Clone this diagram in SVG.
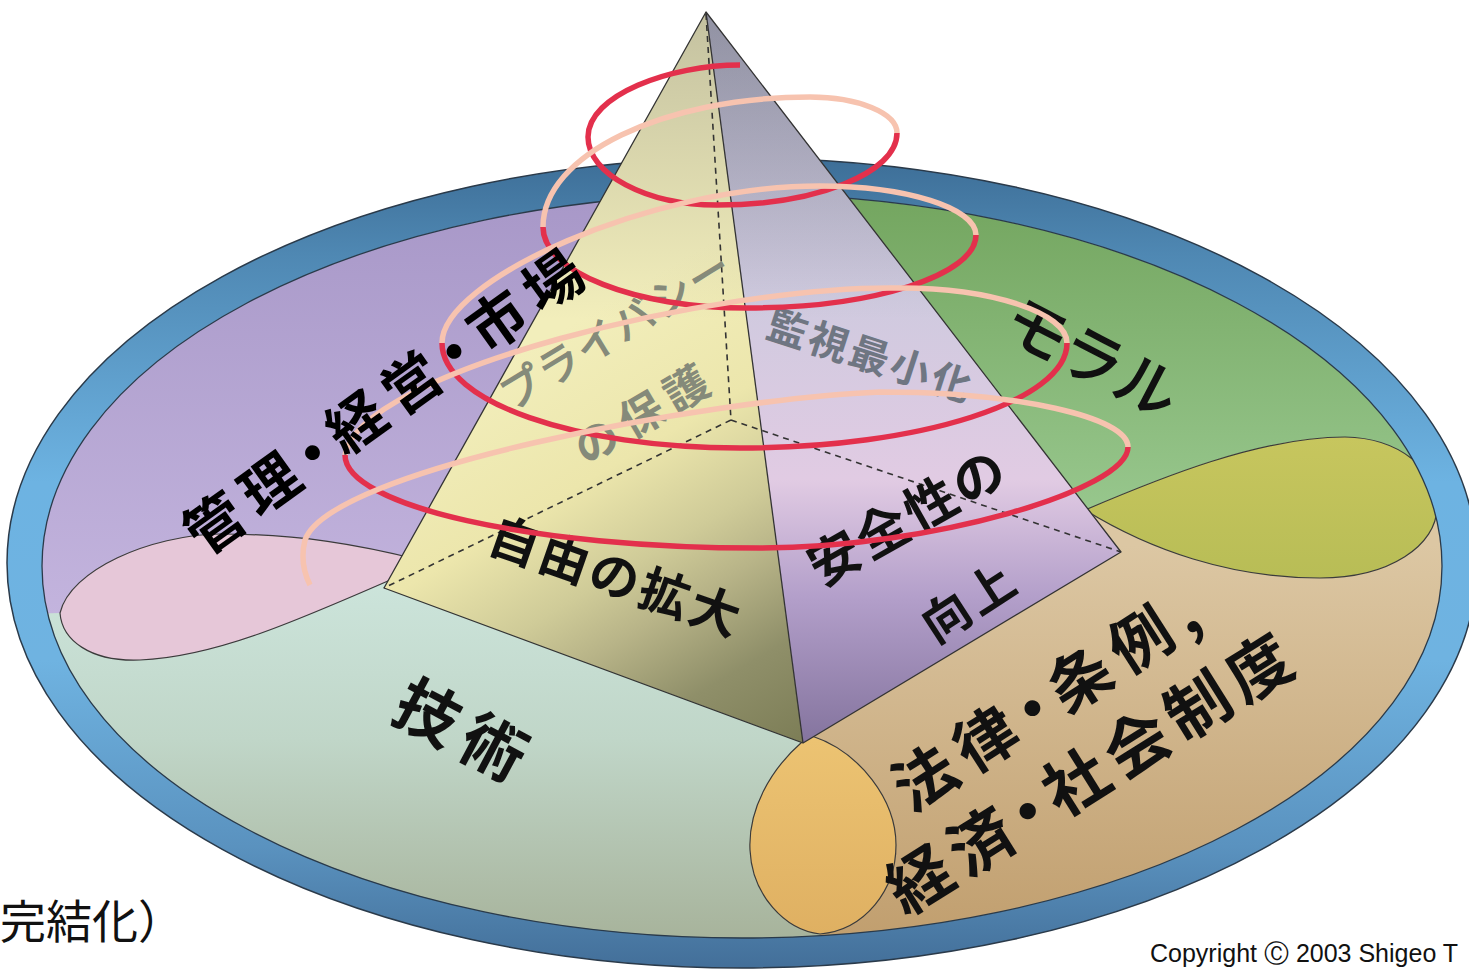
<svg xmlns="http://www.w3.org/2000/svg" width="1469" height="971" viewBox="0 0 1469 971">
<defs>
<style>
.lbl{font-family:"Noto Sans CJK JP","Noto Sans CJK SC",sans-serif;font-weight:700;fill:#111;}
.thin{font-weight:400;}
.gry{fill:#858a7a;}
.edge{fill:none;stroke:#333;stroke-width:1.3;stroke-linejoin:round;}
.dash{fill:none;stroke:#333;stroke-width:1.6;stroke-dasharray:6 5;}
.red{fill:none;stroke:#e3304c;stroke-width:5.5;}
.pale{fill:none;stroke:#f7c3af;stroke-width:5.5;}
.outl{stroke:#3b3b3b;stroke-width:1.2;}
</style>
<linearGradient id="ringG" gradientUnits="userSpaceOnUse" x1="0" y1="158" x2="0" y2="968">
<stop offset="0" stop-color="#3d6e97"/><stop offset="0.12" stop-color="#4f88b3"/><stop offset="0.4" stop-color="#6db3e2"/><stop offset="0.62" stop-color="#6fb3e1"/><stop offset="0.85" stop-color="#5a92bf"/><stop offset="1" stop-color="#436f99"/>
</linearGradient>
<linearGradient id="tealG" gradientUnits="userSpaceOnUse" x1="0" y1="540" x2="0" y2="940">
<stop offset="0" stop-color="#cfe8e0"/><stop offset="0.5" stop-color="#c0d6c8"/><stop offset="1" stop-color="#a7b39b"/>
</linearGradient>
<linearGradient id="purpleG" gradientUnits="userSpaceOnUse" x1="0" y1="200" x2="0" y2="660">
<stop offset="0" stop-color="#a898c8"/><stop offset="1" stop-color="#c6b7e0"/>
</linearGradient>
<linearGradient id="greenG" gradientUnits="userSpaceOnUse" x1="0" y1="200" x2="0" y2="560">
<stop offset="0" stop-color="#74a660"/><stop offset="1" stop-color="#9dcc94"/>
</linearGradient>
<linearGradient id="tanG" gradientUnits="userSpaceOnUse" x1="0" y1="545" x2="0" y2="935">
<stop offset="0" stop-color="#dcc7a3"/><stop offset="1" stop-color="#c19f6f"/>
</linearGradient>
<linearGradient id="ygG" gradientUnits="userSpaceOnUse" x1="0" y1="437" x2="0" y2="578">
<stop offset="0" stop-color="#c7c65e"/><stop offset="1" stop-color="#b8bd56"/>
</linearGradient>
<linearGradient id="orangeG" gradientUnits="userSpaceOnUse" x1="0" y1="740" x2="0" y2="934">
<stop offset="0" stop-color="#ecc372"/><stop offset="1" stop-color="#dfb062"/>
</linearGradient>
<linearGradient id="leftFaceG" gradientUnits="userSpaceOnUse" x1="560" y1="330" x2="803" y2="743">
<stop offset="0" stop-color="#f2eebb"/><stop offset="0.3" stop-color="#ece6ac"/><stop offset="0.5" stop-color="#cfcb98"/><stop offset="0.62" stop-color="#b8b488"/><stop offset="0.8" stop-color="#8f8f69"/><stop offset="1" stop-color="#7c7d56"/>
</linearGradient>
<linearGradient id="rightFaceG" gradientUnits="userSpaceOnUse" x1="0" y1="12" x2="0" y2="743">
<stop offset="0" stop-color="#a4a5bf"/><stop offset="0.39" stop-color="#cfcadf"/><stop offset="0.64" stop-color="#e1cbe3"/><stop offset="0.8" stop-color="#b39fca"/><stop offset="1" stop-color="#84749e"/>
</linearGradient>
<linearGradient id="apexShade" gradientUnits="userSpaceOnUse" x1="0" y1="12" x2="0" y2="320">
<stop offset="0" stop-color="#6e6e6e" stop-opacity="0.35"/><stop offset="1" stop-color="#6e6e6e" stop-opacity="0"/>
</linearGradient>
<clipPath id="innerClip"><ellipse cx="742" cy="566" rx="700" ry="372"/></clipPath>
</defs>

<g id="ring">
<ellipse cx="742" cy="563" rx="735" ry="405" fill="url(#ringG)" stroke="#2a3a4a" stroke-width="1.5"/>
</g>

<g id="regions" clip-path="url(#innerClip)">
<rect id="region-gijutsu" x="0" y="150" width="1469" height="821" fill="url(#tealG)"/>
<path id="region-houritsu" d="M790,700 L802,742 C770,770 748,810 750,850 C752,895 785,930 820,934 L822,1000 L1520,1000 L1520,507 L1437,507 C1437,545 1390,578 1320,578 C1230,578 1150,550 1085,510 L1060,520 Z" fill="url(#tanG)"/>
<path id="region-kanri" d="M0,0 L0,615 L60,613 C62,640 90,662 140,660 C220,657 310,615 420,567 L706,150 L706,0 Z" fill="url(#purpleG)"/>
<path id="region-moral" d="M760,0 L760,200 L1060,515 L1085,510 C1160,478 1260,437 1345,437 C1400,438 1437,470 1437,507 L1520,507 L1520,0 Z" fill="url(#greenG)"/>
<path id="overlap-pink" class="outl" d="M60,613 C62,640 90,662 140,660 C220,657 310,615 420,567 L420,560 C360,545 300,534 220,534 C150,535 70,570 60,613 Z" fill="#e6c7d8"/>
<path id="overlap-yellowgreen" class="outl" d="M1437,507 C1437,470 1400,438 1345,437 C1260,437 1160,478 1085,510 C1150,550 1230,578 1320,578 C1390,578 1437,545 1437,507 Z" fill="url(#ygG)"/>
<path id="overlap-orange" class="outl" d="M802,742 C770,770 748,810 750,850 C752,895 785,930 820,934 C865,930 896,890 896,845 C896,800 860,752 812,736 Z" fill="url(#orangeG)"/>
</g>
<ellipse cx="742" cy="566" rx="700" ry="372" fill="none" stroke="#2a3a4a" stroke-width="1.3"/>

<g id="pyramid">
<polygon id="face-left" points="706,12 384,588 803,743" fill="url(#leftFaceG)"/>
<polygon id="face-right" points="706,12 803,743 1121,552" fill="url(#rightFaceG)"/>
<polygon points="706,12 384,588 803,743 1121,552" fill="url(#apexShade)"/>
<polygon class="edge" points="706,12 384,588 803,743 1121,552"/>
<line class="edge" x1="706" y1="12" x2="803" y2="743"/>
<line class="dash" x1="706" y1="14" x2="731" y2="420"/>
<line class="dash" x1="731" y1="420" x2="384" y2="588"/>
<line class="dash" x1="731" y1="420" x2="1121" y2="552"/>
</g>

<g id="labels">
<g id="label-privacy" transform="translate(616,330) rotate(-31.4)"><text class="lbl gry thin" font-size="42" letter-spacing="2" text-anchor="middle" dy=".36em" stroke="#858a7a" stroke-width="1.4">プライバシー</text></g>
<g id="label-hogo" transform="translate(645,413) rotate(-30.5)"><text class="lbl gry" font-size="44" letter-spacing="8" text-anchor="middle" dy=".36em">の保護</text></g>
<g id="label-jiyu" transform="translate(616,577) rotate(19.2)"><text class="lbl" font-size="50" letter-spacing="3" text-anchor="middle" dy=".36em">自由の拡大</text></g>
<g id="label-kanshi" transform="translate(871,356) rotate(18)"><text class="lbl" font-size="40" letter-spacing="3" text-anchor="middle" dy=".36em" style="fill:#6f7682">監視最小化</text></g>
<g id="label-moral" transform="translate(1092,358) rotate(27.4)"><text class="lbl thin" font-size="62" text-anchor="middle" dy=".36em" stroke="#111" stroke-width="1.8">モラル</text></g>
<g id="label-anzen" transform="translate(908,517) rotate(-29.5)"><text class="lbl" font-size="52" letter-spacing="3" text-anchor="middle" dy=".36em">安全性の</text></g>
<g id="label-kojo" transform="translate(970,602) rotate(-33)"><text class="lbl" font-size="48" letter-spacing="4" text-anchor="middle" dy=".36em">向上</text></g>
<g id="label-gijutsu" transform="translate(465,733) rotate(28)"><text class="lbl" font-size="64" letter-spacing="10" text-anchor="middle" dy=".36em">技術</text></g>
<g id="label-houritsu" transform="translate(899,795) rotate(-32.6)"><text class="lbl" font-size="62" letter-spacing="10" text-anchor="start" dy=".36em">法律<tspan dx="-16">・</tspan><tspan dx="-16">条例,</tspan></text></g>
<g id="label-keizai" transform="translate(1093,772) rotate(-32)"><text class="lbl" font-size="64" letter-spacing="8" text-anchor="middle" dy=".36em">経済<tspan dx="-16">・</tspan><tspan dx="-16">社会制度</tspan></text></g>
</g>

<g id="spiral">
<path class="red" d="M740,65 C670,65 588,95 588,137 C588,174 646,205 717,205 C816,205 897,173 897,133"/>
<path class="pale" d="M897,133 C897,113 858,97 810,97 C663,97 543,155 543,227"/>
<path class="red" d="M543,227 C543,272 635,308 747,308 C873,308 976,275 976,235"/>
<path class="pale" d="M976,235 C976,208 906,186 820,186 C650,186 442,280 442,343"/>
<path class="red" d="M442,343 C442,402 576,448 740,448 C920,448 1067,401 1067,343"/>
<path class="pale" d="M1067,343 C1067,313 992,288 900,288 C720,285 360,370 345,455"/>
<path class="red" d="M345,455 C345,506 532,548 760,548 C930,548 1128,490 1128,447"/>
<path class="pale" d="M1128,447 C1128,417 1016,392 880,392 C700,400 330,470 305,540 C300,560 305,575 310,585"/>
</g>

<g id="label-kanri" transform="translate(388,400) rotate(-35.6)"><text class="lbl" font-size="58" letter-spacing="10" text-anchor="middle" dy=".36em" style="fill:#000">管理<tspan dx="-15">・</tspan><tspan dx="-15">経営</tspan><tspan dx="-15">・</tspan><tspan dx="-15">市場</tspan></text></g>

<text id="caption" x="0" y="938" font-family="Noto Sans CJK JP, Noto Sans CJK SC, sans-serif" font-size="46" fill="#111">完結化）</text>
<text id="copyright" x="1150" y="962" font-family="Liberation Sans, Arial, sans-serif" font-size="25" fill="#111">Copyright Ⓒ 2003 Shigeo T</text>
</svg>
